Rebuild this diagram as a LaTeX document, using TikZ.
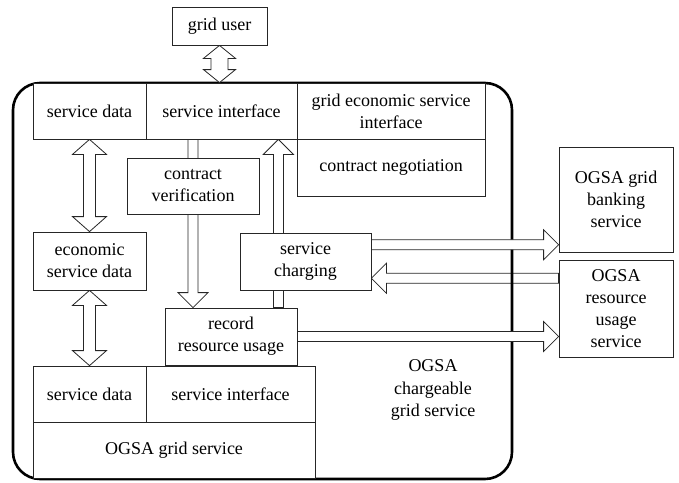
\documentclass[tikz,border=0pt]{standalone}
\usepackage{fontspec}
\setmainfont{Liberation Serif}
\newfontfamily\diagfont{Liberation Serif}
\usetikzlibrary{calc}
\pgfdeclarelayer{backarr}
\pgfdeclarelayer{frame}
\pgfdeclarelayer{arr}
\pgfsetlayers{backarr,frame,arr,main}
\tikzset{
  box/.style={draw=black!85, line width=0.8pt, fill=white, inner sep=0pt, align=center,
              font=\diagfont\fontsize{18}{22}\selectfont},
  fatarr/.style={draw=black!85, line width=0.8pt, fill=white, line join=miter},
  container/.style={draw=black, line width=2.6pt, rounded corners=27pt, inner sep=0pt},
  lbl/.style={align=center, inner sep=0pt, font=\diagfont\fontsize{18}{22.5}\selectfont}
}
% single fat arrow: tail, tip, shaft half width, head half width, head length
\newcommand{\fatarrow}[5]{%
  \path (#1); \pgfgetlastxy{\faxa}{\faya}%
  \path (#2); \pgfgetlastxy{\faxb}{\fayb}%
  \pgfmathsetmacro{\faang}{atan2(\fayb-\faya,\faxb-\faxa)}%
  \pgfmathsetmacro{\falen}{veclen(\fayb-\faya,\faxb-\faxa)}%
  \pgfmathsetmacro{\fabase}{\falen-#5}%
  \draw[fatarr, shift={(#1)}, rotate=\faang]
    (0pt,#3pt) -- (\fabase pt,#3pt) -- (\fabase pt,#4pt) -- (\falen pt,0pt)
    -- (\fabase pt,-#4pt) -- (\fabase pt,-#3pt) -- (0pt,-#3pt) -- cycle;
}
% double fat arrow
\newcommand{\fatdarrow}[5]{%
  \path (#1); \pgfgetlastxy{\faxa}{\faya}%
  \path (#2); \pgfgetlastxy{\faxb}{\fayb}%
  \pgfmathsetmacro{\faang}{atan2(\fayb-\faya,\faxb-\faxa)}%
  \pgfmathsetmacro{\falen}{veclen(\fayb-\faya,\faxb-\faxa)}%
  \pgfmathsetmacro{\fabase}{\falen-#5}%
  \draw[fatarr, shift={(#1)}, rotate=\faang]
    (0pt,0pt) -- (#5pt,#4pt) -- (#5pt,#3pt) -- (\fabase pt,#3pt) -- (\fabase pt,#4pt)
    -- (\falen pt,0pt) -- (\fabase pt,-#4pt) -- (\fabase pt,-#3pt) -- (#5pt,-#3pt)
    -- (#5pt,-#4pt) -- cycle;
}
\begin{document}
\begin{tikzpicture}[x=1pt,y=-1pt]
\useasboundingbox (0,0) rectangle (679,482);

% boxes
\node[box, minimum width=95pt,  minimum height=38pt] (gu)   at (219.5,26)   {grid user};
\node[box, minimum width=113pt, minimum height=56pt] (sd1)  at (89.5,111)   {service data};
\node[box, minimum width=151pt, minimum height=56pt] (si1)  at (221.5,111)  {service interface};
\node[box, minimum width=188pt, minimum height=56pt] (gesi) at (391,111)    {grid economic service\\interface};
\node[box, minimum width=188pt, minimum height=57pt] (cn)   at (391,167.5)  {contract negotiation};
\node[box, minimum width=132pt, minimum height=56pt] (cv)   at (193,186)    {contract\\verification};
\node[box, minimum width=113pt, minimum height=58pt] (esd)  at (89.5,261)   {economic\\service data};
\node[box, minimum width=131pt, minimum height=57pt] (sc)   at (305.5,261.5){service\\charging};
\node[box, minimum width=132pt, minimum height=57pt] (rru)  at (231,336.5)  {record\\resource usage};
\node[box, minimum width=113pt, minimum height=56pt] (sd2)  at (89.5,394)   {service data};
\node[box, minimum width=169pt, minimum height=56pt] (si2)  at (230.5,394)  {service interface};
\node[box, minimum width=282pt, minimum height=56pt] (ogs)  at (174,450)    {OGSA grid service};
\node[box, minimum width=114pt, minimum height=105pt] (bank) at (616,199.5) {OGSA grid\\banking\\service};
\node[box, minimum width=114pt, minimum height=97pt] (rus)  at (616,308.5)  {OGSA\\resource\\usage\\service};
\node[lbl] (lab) at (433,390) {OGSA\\chargeable\\grid service};

% connection points
\coordinate (gu1) at (gu.south |- si1.north);
\coordinate (d0) at (si1.south -| cv);
\coordinate (d1) at (cv |- rru.north);
\coordinate (u0) at ([xshift=-19pt]rru.north east);
\coordinate (u1) at (u0 |- si1.south);
\coordinate (r0) at ($(sc.north east)!0.21!(sc.south east)$);
\coordinate (r1) at (r0 -| bank.west);
\coordinate (l0) at ($(sc.north east)!0.79!(sc.south east)$);
\coordinate (l1) at (l0 -| rus.west);
\coordinate (b1) at (rru.east -| rus.west);

\begin{pgfonlayer}{backarr}
  \fatarrow{l1}{l0}{5}{15}{15}
\end{pgfonlayer}

\begin{pgfonlayer}{frame}
  \node[container, minimum width=499pt, minimum height=396pt] (cont) at (262.5,281) {};
\end{pgfonlayer}

\begin{pgfonlayer}{arr}
  \fatdarrow{gu.south}{gu1}{8.5}{16}{13}
  \fatdarrow{sd1.south}{esd.north}{6}{17}{15}
  \fatdarrow{esd.south}{sd2.north}{6}{17}{15}
  \fatarrow{d0}{d1}{5}{15}{15}
  \fatarrow{u0}{u1}{5}{15}{15}
  \fatarrow{r0}{r1}{5}{15}{15}
  \fatarrow{rru.east}{b1}{5}{15}{15}
\end{pgfonlayer}
\end{tikzpicture}
\end{document}
